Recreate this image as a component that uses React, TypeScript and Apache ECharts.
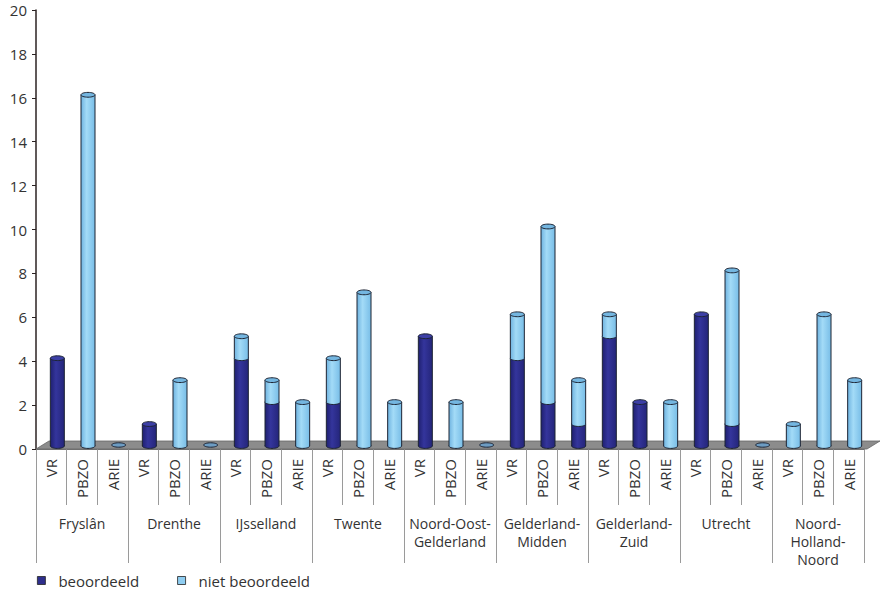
import React, { useEffect, useRef } from "react";
import * as echarts from "echarts";

const regions = [
  "Fryslân",
  "Drenthe",
  "IJsselland",
  "Twente",
  "Noord-Oost-\nGelderland",
  "Gelderland-\nMidden",
  "Gelderland-\nZuid",
  "Utrecht",
  "Noord-\nHolland-\nNoord",
];
const subTypes = ["VR", "PBZO", "ARIE"];
const yTicks = [0, 2, 4, 6, 8, 10, 12, 14, 16, 18, 20];

// per region: VR, PBZO, ARIE
const beoordeeld = [4, 0, 0, 1, 0, 0, 4, 2, 0, 2, 0, 0, 5, 0, 0, 4, 2, 1, 5, 2, 0, 6, 1, 0, 0, 0, 0];
const nietBeoordeeld = [0, 16, 0, 0, 3, 0, 1, 1, 2, 2, 7, 2, 0, 2, 0, 2, 8, 2, 1, 0, 2, 0, 7, 0, 1, 6, 3];

const subLabels = regions.flatMap(() => subTypes);
const FONT = "'Open Sans', 'Noto Sans', sans-serif";

const DARK = "#2e2f8c";
const LIGHT = "#8fcdf1";
const STROKE = "#1d2433";

function makeSegRenderer(kind: "dark" | "light") {
  return (params: any, api: any) => {
    const idx = api.value(0);
    const lo = api.value(1);
    const hi = api.value(2);
    const isTop = api.value(3);
    const base = api.coord([idx, lo]);
    const top = api.coord([idx, hi]);
    const rx = 7;
    const ry = 2.4;
    const cx = base[0] + 6;
    const yb = base[1] - 3;
    const yt = top[1] - 3;
    const grad =
      kind === "dark"
        ? new echarts.graphic.LinearGradient(0, 0, 1, 0, [
            { offset: 0, color: "#1f2070" },
            { offset: 0.4, color: "#34359c" },
            { offset: 1, color: "#24257a" },
          ])
        : new echarts.graphic.LinearGradient(0, 0, 1, 0, [
            { offset: 0, color: "#6fb3e0" },
            { offset: 0.4, color: "#a3dbf7" },
            { offset: 1, color: "#78bde7" },
          ]);
    const cap = kind === "dark" ? "#3c3fa6" : "#74b6e0";
    const children: any[] = [
      { type: "ellipse", shape: { cx, cy: yb, rx, ry }, style: { fill: grad, stroke: STROKE, lineWidth: 1 } },
      { type: "rect", shape: { x: cx - rx, y: yt, width: rx * 2, height: yb - yt }, style: { fill: grad } },
      { type: "line", shape: { x1: cx - rx, y1: yt, x2: cx - rx, y2: yb }, style: { stroke: STROKE, lineWidth: 1 } },
      { type: "line", shape: { x1: cx + rx, y1: yt, x2: cx + rx, y2: yb }, style: { stroke: STROKE, lineWidth: 1 } },
    ];
    if (isTop) {
      children.push({ type: "ellipse", shape: { cx, cy: yt, rx, ry }, style: { fill: cap, stroke: STROKE, lineWidth: 1 } });
    }
    return { type: "group", children };
  };
}

export default function App() {
  const ref = useRef<HTMLDivElement>(null);
  useEffect(() => {
    if (!ref.current) return;
    const chart = echarts.init(ref.current, null, { renderer: "svg" });

    const darkData: any[] = [];
    const lightData: any[] = [];
    const zeroData: any[] = [];
    beoordeeld.forEach((b, i) => {
      const n = nietBeoordeeld[i];
      if (b > 0) darkData.push([i, 0, b, n > 0 ? 0 : 1]);
      if (n > 0) lightData.push([i, b, b + n, 1]);
      if (b + n === 0) zeroData.push([i, 0, 0, 0]);
    });

    chart.setOption({
      animation: false,
      textStyle: { fontFamily: FONT },
      grid: { left: 36, right: 17, top: 10, bottom: 142, containLabel: false },
      legend: {
        left: 32,
        top: 568,
        icon: "rect",
        itemWidth: 8,
        itemHeight: 8,
        itemGap: 38,
        data: ["beoordeeld", "niet beoordeeld"],
        textStyle: { fontFamily: FONT, fontSize: 15, color: "#333", padding: [0, 0, 0, 8] },
        itemStyle: { borderColor: "#222", borderWidth: 0.8 },
      },
      xAxis: [
        {
          type: "category",
          data: subLabels.map((_, i) => String(i)),
          boundaryGap: true,
          axisLine: { show: true, lineStyle: { color: "#777", width: 1 } },
          axisTick: { show: true, length: 56, interval: 0, lineStyle: { color: "#9a9a9a" } },
          axisLabel: {
            interval: 0,
            rotate: 90,
            margin: 10,
            fontSize: 15,
            color: "#333",
            fontFamily: FONT,
            formatter: (v: string) => subLabels[Number(v)],
          },
        },
        {
          type: "category",
          data: regions,
          position: "bottom",
          boundaryGap: true,
          axisLine: { show: false },
          axisTick: { show: true, length: 114, interval: 0, lineStyle: { color: "#9a9a9a" } },
          axisLabel: {
            interval: 0,
            margin: 65,
            fontSize: 14,
            lineHeight: 18,
            color: "#333",
            fontFamily: FONT,
          },
        },
      ],
      yAxis: {
        type: "value",
        min: 0,
        max: 20,
        interval: 2,
        axisLine: { show: true, lineStyle: { color: "#2b2222", width: 1.5 } },
        axisTick: { show: true, length: 4, lineStyle: { color: "#2b2222" } },
        splitLine: { show: false },
        axisLabel: {
          fontSize: 15,
          color: "#333",
          fontFamily: FONT,
          margin: 9,
          formatter: (v: number) => (yTicks.includes(v) ? String(v) : ""),
        },
      },
      series: [
        {
          type: "custom",
          name: "floor",
          silent: true,
          z: 1,
          data: [[0, 0]],
          encode: { x: 0, y: 1 },
          renderItem: (params: any, api: any) => {
            const p0 = api.coord([0, 0]);
            const p1 = api.coord([subLabels.length - 1, 0]);
            const w = api.size([1, 0])[0];
            const left = p0[0] - w / 2;
            const right = p1[0] + w / 2;
            const y = p0[1];
            return {
              type: "polygon",
              shape: {
                points: [
                  [left, y],
                  [right + 3, y],
                  [right + 16, y - 8],
                  [left + 13, y - 8],
                ],
              },
              style: { fill: "#8c8c8c", stroke: "#666", lineWidth: 0.8 },
            };
          },
        },
        {
          type: "custom",
          name: "zero",
          z: 2,
          data: zeroData,
          encode: { x: 0, y: [1, 2] },
          renderItem: (params: any, api: any) => {
            const idx = api.value(0);
            const p = api.coord([idx, 0]);
            return {
              type: "ellipse",
              shape: { cx: p[0] + 6, cy: p[1] - 4, rx: 7, ry: 2.2 },
              style: { fill: "#6d9cc2", stroke: STROKE, lineWidth: 1 },
            };
          },
        },
        {
          type: "custom",
          name: "beoordeeld",
          z: 3,
          itemStyle: { color: DARK },
          data: darkData,
          encode: { x: 0, y: [1, 2] },
          renderItem: makeSegRenderer("dark"),
        },
        {
          type: "custom",
          name: "niet beoordeeld",
          z: 4,
          itemStyle: { color: LIGHT },
          data: lightData,
          encode: { x: 0, y: [1, 2] },
          renderItem: makeSegRenderer("light"),
        },
      ],
    });
    return () => chart.dispose();
  }, []);
  return (
    <div
      ref={ref}
      style={{ position: "absolute", left: 0, top: 0, width: 881, height: 591, background: "#fff" }}
    />
  );
}
